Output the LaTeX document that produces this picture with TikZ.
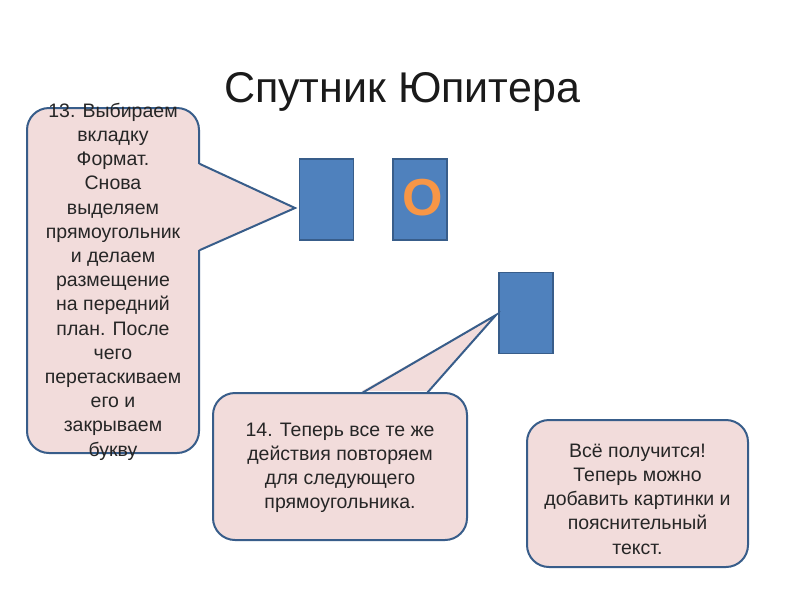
\documentclass[tikz,border=0pt]{standalone}
\usepackage{fontspec}
\setmainfont{Liberation Sans}
\definecolor{calfill}{HTML}{F2DCDB}
\definecolor{calborder}{HTML}{385D8A}
\definecolor{bluefill}{HTML}{4F81BD}
\definecolor{orangeO}{HTML}{F79646}
\definecolor{textgray}{HTML}{1A1A1A}
\definecolor{bodygray}{HTML}{262626}
\begin{document}
\begin{tikzpicture}[x=1pt,y=-1pt,
  callout/.style={draw=calborder, fill=calfill, line width=2pt, rounded corners=22pt, inner sep=0pt},
  calledge/.style={draw=calborder, line width=2pt, line join=miter},
  bluebox/.style={draw=calborder, fill=bluefill, line width=1.5pt, inner sep=0pt, minimum width=54pt, minimum height=81pt},
  ctext/.style={align=center, font=\fontsize{19.5}{24.2}\selectfont, text=bodygray, inner sep=0pt}]
\useasboundingbox (0,0) rectangle (800,600);
\fill[white] (0,0) rectangle (800,600);

% title
\node[anchor=base, font=\fontsize{43}{50}\selectfont, text=textgray, inner sep=0pt] (title) at (402,102) {Спутник Юпитера};

% blue rectangles
\node[bluebox] (r1) at (326.5,199.5) {};
\node[bluebox] (r2) at (420,199.5) {};
\node[anchor=base, font=\bfseries\fontsize{52}{56}\selectfont, text=orangeO, inner sep=0pt] (oletter) at (423,215) {О};
\node[bluebox] (r3) at (526,313) {};

% callout 1
\node[callout, minimum width=172pt, minimum height=345pt] (c1) at (113,280.5) {};
\coordinate (t1) at (295,208);
\coordinate (a1) at (200,164);
\coordinate (b1) at (200,250);
\fill[calfill] ([xshift=-2pt]a1) -- (t1) -- ([xshift=-2pt]b1) -- cycle;
\draw[calledge] (a1) -- (t1) -- (b1);
\node[ctext] (c1text) at (113,281.5) {13. Выбираем\\вкладку\\Формат.\\Снова\\выделяем\\прямоугольник\\и делаем\\размещение\\на передний\\план. После\\чего\\перетаскиваем\\его и\\закрываем\\букву};

% callout 2
\node[callout, minimum width=254pt, minimum height=147pt] (c2) at (340,466.5) {};
\coordinate (t2) at (496,315);
\coordinate (a2) at (362,393);
\coordinate (b2) at (427,393);
\fill[calfill] ([yshift=2pt]a2) -- (t2) -- ([yshift=2pt]b2) -- cycle;
\draw[calledge] (a2) -- (t2) -- (b2);
\node[ctext] (c2text) at (340,468) {14. Теперь все те же\\действия повторяем\\для следующего\\прямоугольника.};

% callout 3
\node[callout, minimum width=221pt, minimum height=147pt] (c3) at (637.5,493.5) {};
\node[ctext] (c3text) at (637.5,499) {Всё получится!\\Теперь можно\\добавить картинки и\\пояснительный\\текст.};
\end{tikzpicture}
\end{document}
